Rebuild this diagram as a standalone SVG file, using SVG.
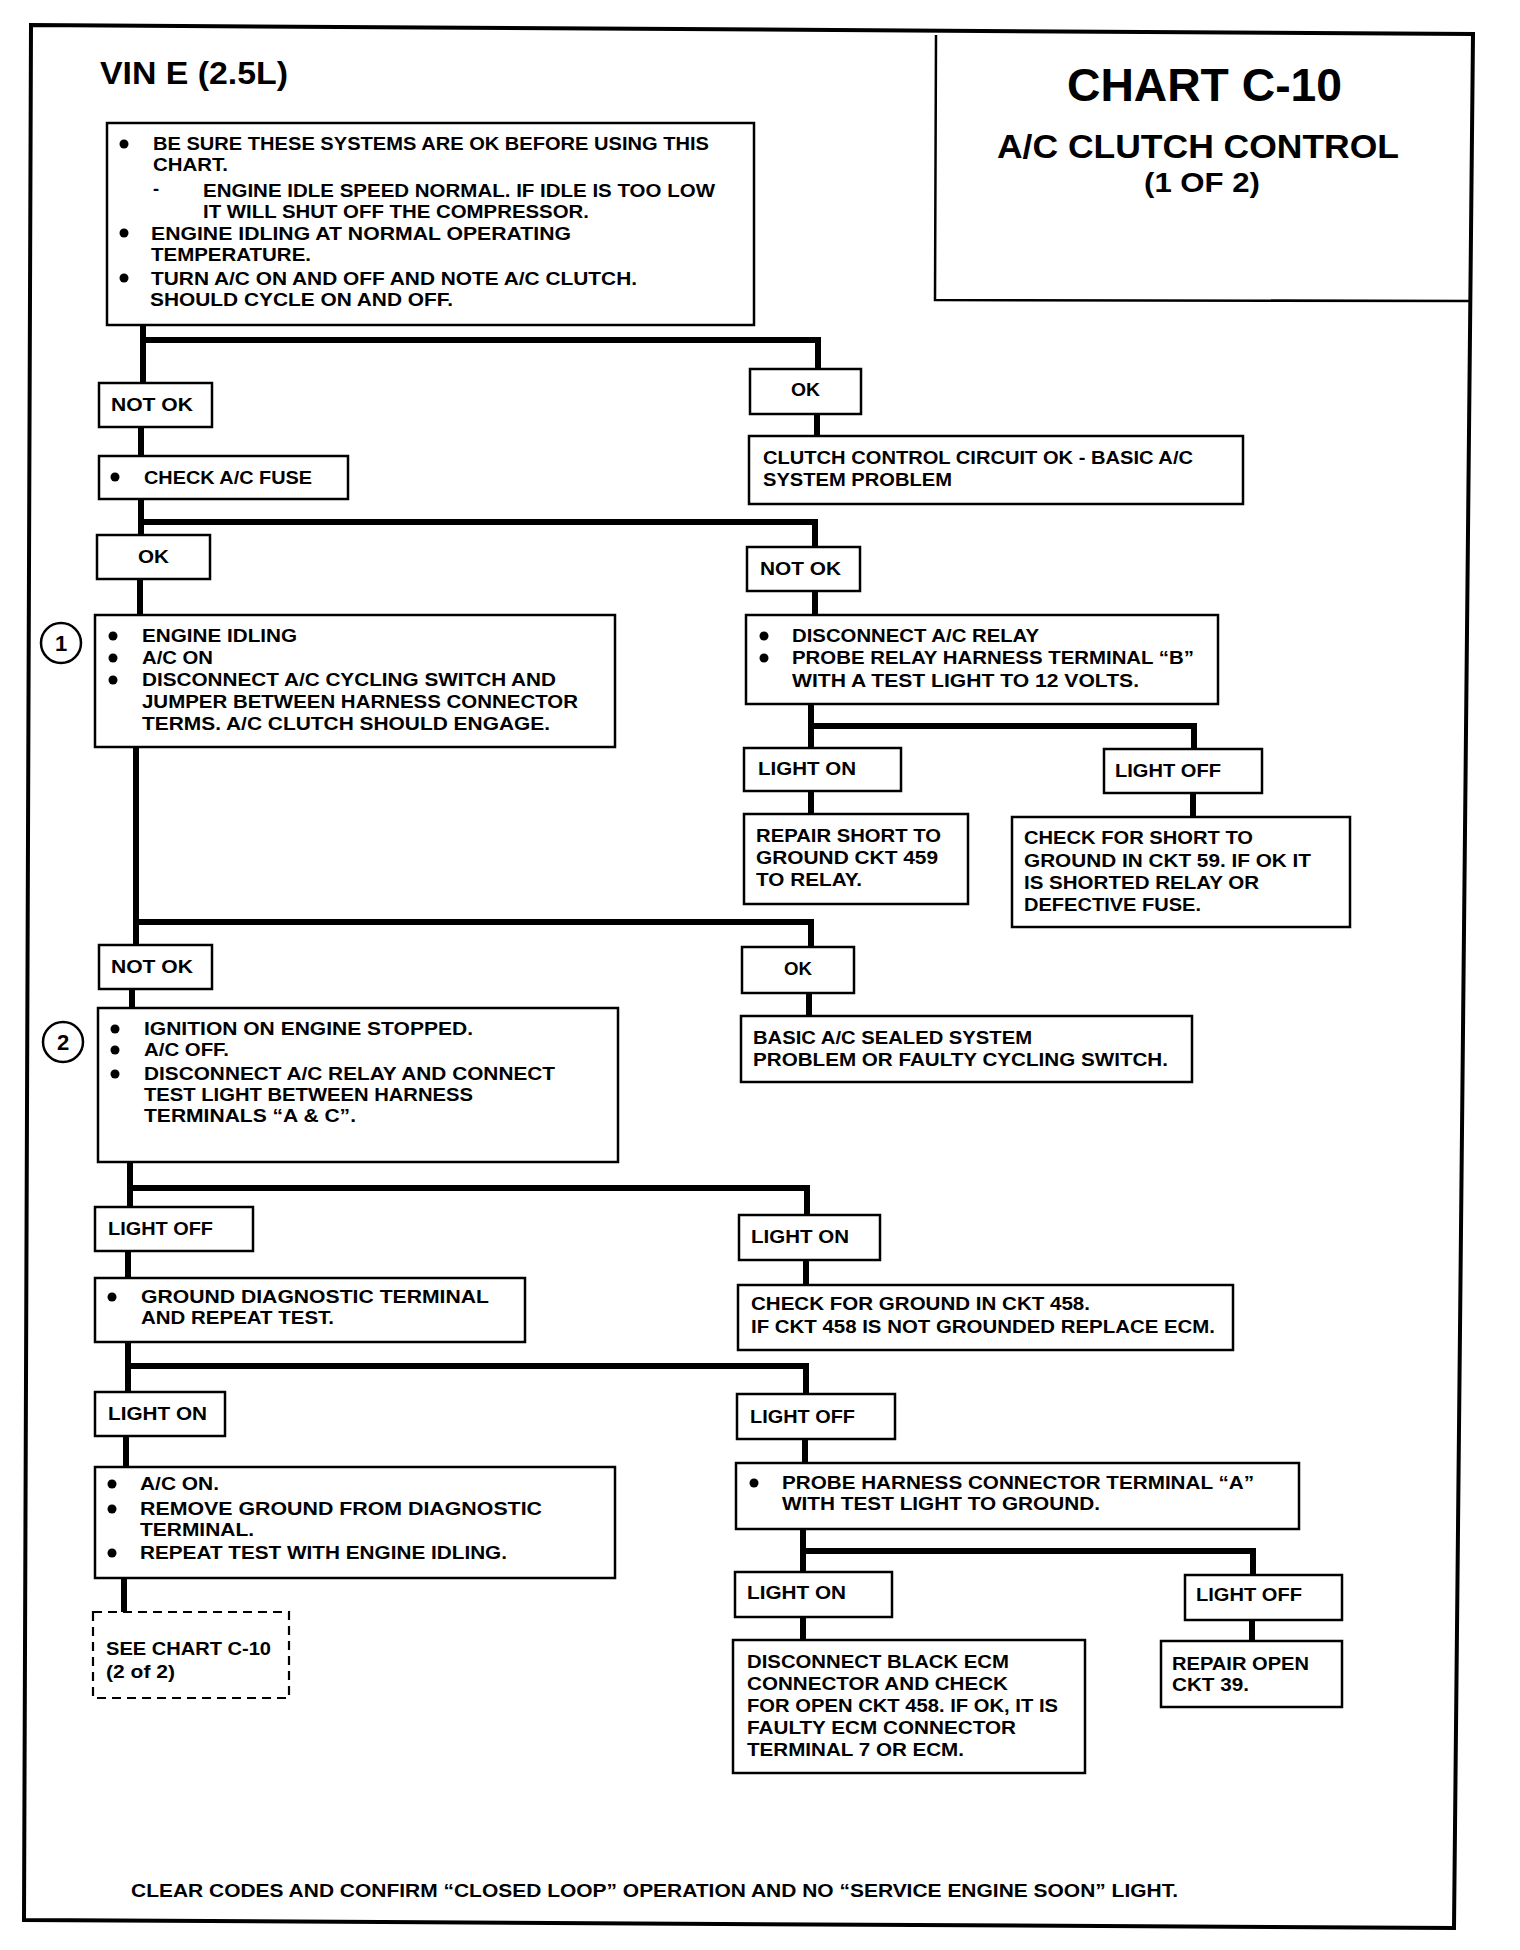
<svg xmlns="http://www.w3.org/2000/svg" width="1520" height="1950" viewBox="0 0 1520 1950">
<style>
.box{fill:#fff;stroke:#000;stroke-width:2.5}
.dash{fill:#fff;stroke:#000;stroke-width:2.2;stroke-dasharray:9 6}
.conn{fill:none;stroke:#000;stroke-width:6}
.frame{fill:none;stroke:#000;stroke-width:4}
.t{font-family:"Liberation Sans",Arial,sans-serif;font-weight:700;font-size:18.5px;fill:#000}
.h{font-family:"Liberation Sans",Arial,sans-serif;font-weight:700;fill:#000}
.b{fill:#000}
</style>
<rect x="0" y="0" width="1520" height="1950" fill="#fff"/>
<g id="frame">
<polygon class="frame" points="31,25 1473,34 1454,1928 24,1920"/>
<polyline fill="none" stroke="#000" stroke-width="2.5" points="936,35 935,300 1471,301"/>
<text x="100" y="84" font-family="Liberation Sans, Arial, sans-serif" font-weight="700" font-size="31" textLength="188" lengthAdjust="spacingAndGlyphs">VIN E (2.5L)</text>
<text class="h" x="1067" y="101" font-size="46" textLength="275" lengthAdjust="spacingAndGlyphs">CHART C-10</text>
<text class="h" x="997" y="158" font-size="33" textLength="402" lengthAdjust="spacingAndGlyphs">A/C CLUTCH CONTROL</text>
<text class="h" x="1144" y="192" font-size="27" textLength="116" lengthAdjust="spacingAndGlyphs">(1 OF 2)</text>
</g>
<g id="connectors">
<path class="conn" d="M143,326 V383 M140,340 H818 V369"/>
<path class="conn" d="M141,427 V456"/>
<path class="conn" d="M817,414 V436"/>
<path class="conn" d="M141,499 V535 M138,522 H815 V547"/>
<path class="conn" d="M140,579 V615"/>
<path class="conn" d="M815,591 V615"/>
<path class="conn" d="M811,704 V748 M808,726 H1194 V749"/>
<path class="conn" d="M811,791 V814"/>
<path class="conn" d="M1193,793 V817"/>
<path class="conn" d="M136,747 V945 M133,922 H811 V947"/>
<path class="conn" d="M132,989 V1008"/>
<path class="conn" d="M809,993 V1016"/>
<path class="conn" d="M130,1162 V1207 M127,1188 H807 V1215"/>
<path class="conn" d="M128,1251 V1278"/>
<path class="conn" d="M806,1260 V1285"/>
<path class="conn" d="M128,1342 V1392 M125,1366 H806 V1394"/>
<path class="conn" d="M126,1436 V1467"/>
<path class="conn" d="M805,1439 V1463"/>
<path class="conn" d="M124,1578 V1612"/>
<path class="conn" d="M803,1529 V1572 M800,1551 H1253 V1575"/>
<path class="conn" d="M803,1617 V1640"/>
<path class="conn" d="M1252,1620 V1641"/>
</g>
<g id="n-precheck">
<rect class="box" x="107" y="123" width="647" height="202"/>
<circle class="b" cx="124" cy="144" r="4.5"/>
<text class="t" x="153" y="150" textLength="556" lengthAdjust="spacingAndGlyphs">BE SURE THESE SYSTEMS ARE OK BEFORE USING THIS</text>
<text class="t" x="153" y="171" textLength="75" lengthAdjust="spacingAndGlyphs">CHART.</text>
<text class="t" x="153" y="195">-</text>
<text class="t" x="203" y="197" textLength="512" lengthAdjust="spacingAndGlyphs">ENGINE IDLE SPEED NORMAL. IF IDLE IS TOO LOW</text>
<text class="t" x="203" y="218" textLength="386" lengthAdjust="spacingAndGlyphs">IT WILL SHUT OFF THE COMPRESSOR.</text>
<circle class="b" cx="124" cy="233" r="4.5"/>
<text class="t" x="151" y="240" textLength="420" lengthAdjust="spacingAndGlyphs">ENGINE IDLING AT NORMAL OPERATING</text>
<text class="t" x="151" y="261" textLength="160" lengthAdjust="spacingAndGlyphs">TEMPERATURE.</text>
<circle class="b" cx="124" cy="278" r="4.5"/>
<text class="t" x="151" y="285" textLength="486" lengthAdjust="spacingAndGlyphs">TURN A/C ON AND OFF AND NOTE A/C CLUTCH.</text>
<text class="t" x="150" y="306" textLength="303" lengthAdjust="spacingAndGlyphs">SHOULD CYCLE ON AND OFF.</text>
</g>
<g id="n-notok1">
<rect class="box" x="99" y="383" width="113" height="44"/>
<text class="t" x="111" y="411" textLength="82" lengthAdjust="spacingAndGlyphs">NOT OK</text>
</g>
<g id="n-checkfuse">
<rect class="box" x="99" y="456" width="249" height="43"/>
<circle class="b" cx="115" cy="477" r="4.5"/>
<text class="t" x="144" y="484" textLength="168" lengthAdjust="spacingAndGlyphs">CHECK A/C FUSE</text>
</g>
<g id="n-ok1">
<rect class="box" x="750" y="369" width="111" height="45"/>
<text class="t" x="791" y="396" textLength="29" lengthAdjust="spacingAndGlyphs">OK</text>
</g>
<g id="n-clutchok">
<rect class="box" x="749" y="436" width="494" height="68"/>
<text class="t" x="763" y="464" textLength="430" lengthAdjust="spacingAndGlyphs">CLUTCH CONTROL CIRCUIT OK - BASIC A/C</text>
<text class="t" x="763" y="486" textLength="189" lengthAdjust="spacingAndGlyphs">SYSTEM PROBLEM</text>
</g>
<g id="n-ok2">
<rect class="box" x="97" y="535" width="113" height="44"/>
<text class="t" x="138" y="563" textLength="31" lengthAdjust="spacingAndGlyphs">OK</text>
</g>
<g id="n-notok2">
<rect class="box" x="747" y="547" width="113" height="44"/>
<text class="t" x="760" y="575" textLength="81" lengthAdjust="spacingAndGlyphs">NOT OK</text>
</g>
<g id="n-step1">
<circle fill="#fff" stroke="#000" stroke-width="2.5" cx="61" cy="643" r="20"/>
<text class="h" x="61" y="651" font-size="22" text-anchor="middle">1</text>
<rect class="box" x="95" y="615" width="520" height="132"/>
<circle class="b" cx="113" cy="636" r="4.5"/>
<text class="t" x="142" y="642" textLength="155" lengthAdjust="spacingAndGlyphs">ENGINE IDLING</text>
<circle class="b" cx="113" cy="658" r="4.5"/>
<text class="t" x="142" y="664" textLength="71" lengthAdjust="spacingAndGlyphs">A/C ON</text>
<circle class="b" cx="113" cy="680" r="4.5"/>
<text class="t" x="142" y="686" textLength="414" lengthAdjust="spacingAndGlyphs">DISCONNECT A/C CYCLING SWITCH AND</text>
<text class="t" x="142" y="708" textLength="436" lengthAdjust="spacingAndGlyphs">JUMPER BETWEEN HARNESS CONNECTOR</text>
<text class="t" x="142" y="730" textLength="408" lengthAdjust="spacingAndGlyphs">TERMS.  A/C CLUTCH SHOULD ENGAGE.</text>
</g>
<g id="n-relay">
<rect class="box" x="746" y="615" width="472" height="89"/>
<circle class="b" cx="764" cy="636" r="4.5"/>
<text class="t" x="792" y="642" textLength="247" lengthAdjust="spacingAndGlyphs">DISCONNECT A/C RELAY</text>
<circle class="b" cx="764" cy="658" r="4.5"/>
<text class="t" x="792" y="664" textLength="402" lengthAdjust="spacingAndGlyphs">PROBE RELAY HARNESS TERMINAL “B”</text>
<text class="t" x="792" y="687" textLength="347" lengthAdjust="spacingAndGlyphs">WITH A TEST LIGHT TO 12  VOLTS.</text>
</g>
<g id="n-lighton1">
<rect class="box" x="744" y="748" width="157" height="43"/>
<text class="t" x="758" y="775" textLength="98" lengthAdjust="spacingAndGlyphs">LIGHT ON</text>
</g>
<g id="n-repairshort">
<rect class="box" x="744" y="814" width="224" height="90"/>
<text class="t" x="756" y="842" textLength="185" lengthAdjust="spacingAndGlyphs">REPAIR SHORT TO</text>
<text class="t" x="756" y="864" textLength="182" lengthAdjust="spacingAndGlyphs">GROUND CKT 459</text>
<text class="t" x="756" y="886" textLength="106" lengthAdjust="spacingAndGlyphs">TO RELAY.</text>
</g>
<g id="n-lightoff1">
<rect class="box" x="1104" y="749" width="158" height="44"/>
<text class="t" x="1115" y="777" textLength="106" lengthAdjust="spacingAndGlyphs">LIGHT OFF</text>
</g>
<g id="n-checkshort">
<rect class="box" x="1012" y="817" width="338" height="110"/>
<text class="t" x="1024" y="844" textLength="229" lengthAdjust="spacingAndGlyphs">CHECK FOR SHORT TO</text>
<text class="t" x="1024" y="867" textLength="287" lengthAdjust="spacingAndGlyphs">GROUND IN CKT 59. IF OK IT</text>
<text class="t" x="1024" y="889" textLength="235" lengthAdjust="spacingAndGlyphs">IS SHORTED RELAY OR</text>
<text class="t" x="1024" y="911" textLength="177" lengthAdjust="spacingAndGlyphs">DEFECTIVE FUSE.</text>
</g>
<g id="n-notok3">
<rect class="box" x="99" y="945" width="113" height="44"/>
<text class="t" x="111" y="973" textLength="82" lengthAdjust="spacingAndGlyphs">NOT OK</text>
</g>
<g id="n-ok3">
<rect class="box" x="742" y="947" width="112" height="46"/>
<text class="t" x="784" y="975" textLength="28" lengthAdjust="spacingAndGlyphs">OK</text>
</g>
<g id="n-basic">
<rect class="box" x="741" y="1016" width="451" height="66"/>
<text class="t" x="753" y="1044" textLength="279" lengthAdjust="spacingAndGlyphs">BASIC A/C SEALED SYSTEM</text>
<text class="t" x="753" y="1066" textLength="415" lengthAdjust="spacingAndGlyphs">PROBLEM OR FAULTY CYCLING SWITCH.</text>
</g>
<g id="n-step2">
<circle fill="#fff" stroke="#000" stroke-width="2.5" cx="63" cy="1042" r="20"/>
<text class="h" x="63" y="1050" font-size="22" text-anchor="middle">2</text>
<rect class="box" x="98" y="1008" width="520" height="154"/>
<circle class="b" cx="115" cy="1029" r="4.5"/>
<text class="t" x="144" y="1035" textLength="329" lengthAdjust="spacingAndGlyphs">IGNITION ON ENGINE STOPPED.</text>
<circle class="b" cx="115" cy="1050" r="4.5"/>
<text class="t" x="144" y="1056" textLength="85" lengthAdjust="spacingAndGlyphs">A/C OFF.</text>
<circle class="b" cx="115" cy="1074" r="4.5"/>
<text class="t" x="144" y="1080" textLength="411" lengthAdjust="spacingAndGlyphs">DISCONNECT A/C RELAY AND CONNECT</text>
<text class="t" x="144" y="1101" textLength="329" lengthAdjust="spacingAndGlyphs">TEST LIGHT BETWEEN HARNESS</text>
<text class="t" x="144" y="1122" textLength="212" lengthAdjust="spacingAndGlyphs">TERMINALS “A &amp; C”.</text>
</g>
<g id="n-lightoff2">
<rect class="box" x="95" y="1207" width="158" height="44"/>
<text class="t" x="108" y="1235" textLength="105" lengthAdjust="spacingAndGlyphs">LIGHT OFF</text>
</g>
<g id="n-ground">
<rect class="box" x="95" y="1278" width="430" height="64"/>
<circle class="b" cx="112" cy="1297" r="4.5"/>
<text class="t" x="141" y="1303" textLength="348" lengthAdjust="spacingAndGlyphs">GROUND DIAGNOSTIC TERMINAL</text>
<text class="t" x="141" y="1324" textLength="193" lengthAdjust="spacingAndGlyphs">AND REPEAT TEST.</text>
</g>
<g id="n-lighton2">
<rect class="box" x="739" y="1215" width="141" height="45"/>
<text class="t" x="751" y="1243" textLength="98" lengthAdjust="spacingAndGlyphs">LIGHT ON</text>
</g>
<g id="n-checkground">
<rect class="box" x="738" y="1285" width="495" height="65"/>
<text class="t" x="751" y="1310" textLength="339" lengthAdjust="spacingAndGlyphs">CHECK FOR GROUND IN CKT 458.</text>
<text class="t" x="751" y="1333" textLength="464" lengthAdjust="spacingAndGlyphs">IF CKT 458 IS NOT GROUNDED REPLACE ECM.</text>
</g>
<g id="n-lighton3">
<rect class="box" x="95" y="1392" width="130" height="44"/>
<text class="t" x="108" y="1420" textLength="99" lengthAdjust="spacingAndGlyphs">LIGHT ON</text>
</g>
<g id="n-lightoff3">
<rect class="box" x="737" y="1394" width="158" height="45"/>
<text class="t" x="750" y="1423" textLength="105" lengthAdjust="spacingAndGlyphs">LIGHT OFF</text>
</g>
<g id="n-acon">
<rect class="box" x="95" y="1467" width="520" height="111"/>
<circle class="b" cx="112" cy="1484" r="4.5"/>
<text class="t" x="140" y="1490" textLength="79" lengthAdjust="spacingAndGlyphs">A/C ON.</text>
<circle class="b" cx="112" cy="1509" r="4.5"/>
<text class="t" x="140" y="1515" textLength="402" lengthAdjust="spacingAndGlyphs">REMOVE GROUND FROM DIAGNOSTIC</text>
<text class="t" x="140" y="1536" textLength="114" lengthAdjust="spacingAndGlyphs">TERMINAL.</text>
<circle class="b" cx="112" cy="1553" r="4.5"/>
<text class="t" x="140" y="1559" textLength="367" lengthAdjust="spacingAndGlyphs">REPEAT TEST WITH ENGINE IDLING.</text>
</g>
<g id="n-probe">
<rect class="box" x="736" y="1463" width="563" height="66"/>
<circle class="b" cx="754" cy="1483" r="4.5"/>
<text class="t" x="782" y="1489" textLength="472" lengthAdjust="spacingAndGlyphs">PROBE HARNESS CONNECTOR TERMINAL “A”</text>
<text class="t" x="782" y="1510" textLength="318" lengthAdjust="spacingAndGlyphs">WITH TEST LIGHT TO GROUND.</text>
</g>
<g id="n-seechart">
<rect class="dash" x="93" y="1612" width="196" height="86"/>
<text class="t" x="106" y="1655" textLength="165" lengthAdjust="spacingAndGlyphs">SEE CHART C-10</text>
<text class="t" x="106" y="1678" textLength="69" lengthAdjust="spacingAndGlyphs">(2 of 2)</text>
</g>
<g id="n-lighton4">
<rect class="box" x="735" y="1572" width="157" height="45"/>
<text class="t" x="747" y="1599" textLength="99" lengthAdjust="spacingAndGlyphs">LIGHT ON</text>
</g>
<g id="n-lightoff4">
<rect class="box" x="1185" y="1575" width="157" height="45"/>
<text class="t" x="1196" y="1601" textLength="106" lengthAdjust="spacingAndGlyphs">LIGHT OFF</text>
</g>
<g id="n-disconnect">
<rect class="box" x="733" y="1640" width="352" height="133"/>
<text class="t" x="747" y="1668" textLength="262" lengthAdjust="spacingAndGlyphs">DISCONNECT BLACK ECM</text>
<text class="t" x="747" y="1690" textLength="261" lengthAdjust="spacingAndGlyphs">CONNECTOR AND CHECK</text>
<text class="t" x="747" y="1712" textLength="311" lengthAdjust="spacingAndGlyphs">FOR OPEN CKT 458. IF OK, IT IS</text>
<text class="t" x="747" y="1734" textLength="269" lengthAdjust="spacingAndGlyphs">FAULTY ECM CONNECTOR</text>
<text class="t" x="747" y="1756" textLength="217" lengthAdjust="spacingAndGlyphs">TERMINAL 7 OR ECM.</text>
</g>
<g id="n-repairopen">
<rect class="box" x="1161" y="1641" width="181" height="66"/>
<text class="t" x="1172" y="1670" textLength="137" lengthAdjust="spacingAndGlyphs">REPAIR OPEN</text>
<text class="t" x="1172" y="1691" textLength="77" lengthAdjust="spacingAndGlyphs">CKT 39.</text>
</g>
<g id="footer">
<text class="t" x="131" y="1897" textLength="1047" lengthAdjust="spacingAndGlyphs">CLEAR CODES AND CONFIRM “CLOSED LOOP” OPERATION AND NO “SERVICE ENGINE SOON” LIGHT.</text>
</g>
</svg>
